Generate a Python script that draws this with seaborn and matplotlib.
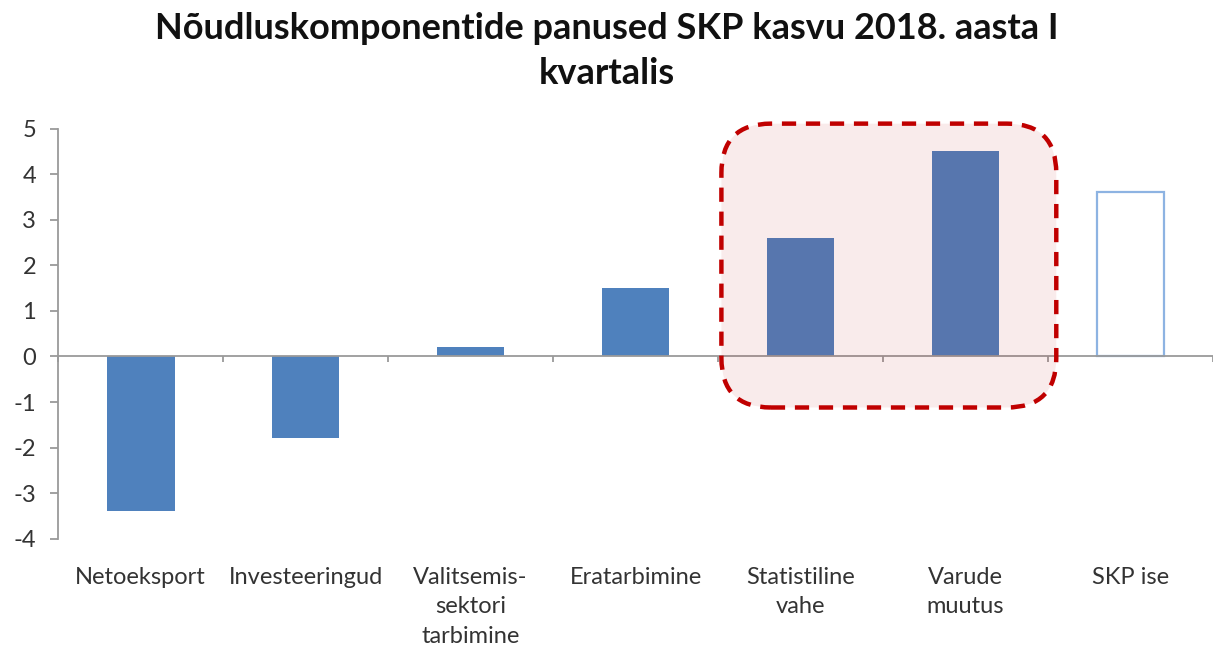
import matplotlib
matplotlib.use("Agg")
import matplotlib.pyplot as plt
from matplotlib.patches import FancyBboxPatch
import numpy as np
import pandas as pd
import seaborn as sns

categories = ["Netoeksport", "Investeeringud", "Valitsemis-\nsektori\ntarbimine",
              "Eratarbimine", "Statistiline\nvahe", "Varude\nmuutus", "SKP ise"]
values = [-3.4, -1.8, 0.2, 1.5, 2.6, 4.5, 3.6]
yticks = [-4, -3, -2, -1, 0, 1, 2, 3, 4, 5]
title = "Nõudluskomponentide panused SKP kasvu 2018. aasta I\nkvartalis"

blue = "#4F81BD"
hollow = "#8DB3E2"
grey = "#9A9A9A"

sns.set_theme(style="white")
plt.rcParams["font.family"] = ["Lato", "DejaVu Sans"]

df = pd.DataFrame({"kat": categories, "val": values})

fig = plt.figure(figsize=(12.13, 6.53), dpi=100)
ax = fig.add_axes([0.048, 0.175, 0.952, 0.628])

sns.barplot(data=df, x="kat", y="val", ax=ax, color=blue, width=0.41,
            saturation=1, linewidth=0)
# last bar: hollow
last = ax.patches[-1]
last.set_facecolor("white")
last.set_edgecolor(hollow)
last.set_linewidth(1.6)

n = len(categories)
ax.set_xlim(-0.5, n - 0.5)
ax.set_ylim(yticks[0], yticks[-1])
ax.set_yticks(yticks)
ax.set_yticklabels([str(t) for t in yticks])
ax.set_xlabel("")
ax.set_ylabel("")

for s in ["top", "right", "bottom"]:
    ax.spines[s].set_visible(False)
ax.spines["left"].set_color(grey)
ax.spines["left"].set_linewidth(1.3)
ax.tick_params(axis="y", direction="out", length=6, width=1.3, color=grey,
               labelsize=17, labelcolor="#333333", pad=10, left=True)
ax.tick_params(axis="x", length=0, labelsize=17, labelcolor="#333333", pad=20)
for lab in ax.get_xticklabels():
    lab.set_linespacing(1.5)
    lab.set_verticalalignment("top")

# zero line with small ticks at category boundaries
ax.axhline(0, color=grey, lw=1.3, zorder=1)
ax.vlines(np.arange(n + 1) - 0.5, -0.13, 0, color=grey, lw=1.3, zorder=1,
          clip_on=False)

# highlight box around "Statistiline vahe" and "Varude muutus"
px_x = ax.get_window_extent().width / n
px_y = ax.get_window_extent().height / (yticks[-1] - yticks[0])
aspect = px_x / px_y
box = FancyBboxPatch((3.52, -1.12), 5.55 - 3.52, 5.11 + 1.12,
                     boxstyle="round,pad=0,rounding_size=0.3",
                     mutation_aspect=aspect, facecolor=(0.75, 0.0, 0.0, 0.08),
                     edgecolor="#C00000", linewidth=3.2, linestyle=(0, (3.2, 2.2)),
                     clip_on=False, zorder=5)
ax.add_patch(box)

fig.suptitle(title, fontsize=26, fontweight="bold", color="#111111",
             y=0.982, linespacing=1.45)

fig.savefig("out.png", dpi=100)
